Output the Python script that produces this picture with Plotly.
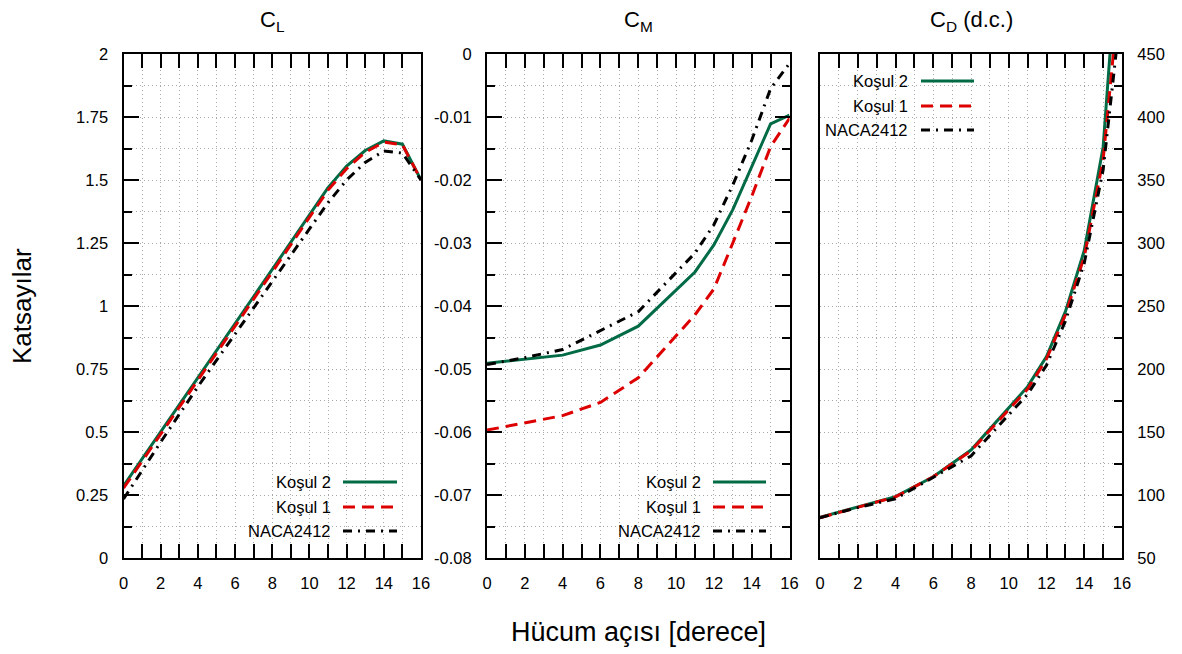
import plotly.graph_objects as go

W, H = 1182, 654

# ---- data ----
alpha = [0, 2, 4, 6, 8, 11, 12, 13, 14, 15, 16]

cl_kosul2 = [0.286, 0.500, 0.715, 0.930, 1.145, 1.470, 1.555, 1.617, 1.655, 1.642, 1.500]
cl_kosul1 = [0.277, 0.490, 0.705, 0.920, 1.135, 1.460, 1.545, 1.610, 1.650, 1.640, 1.500]
cl_naca = [0.234, 0.460, 0.680, 0.890, 1.100, 1.410, 1.500, 1.570, 1.615, 1.607, 1.500]

cm_kosul2 = [-0.0491, -0.0485, -0.0478, -0.0462, -0.0432, -0.0346, -0.0303, -0.0247, -0.0179, -0.0111, -0.0097]
cm_kosul1 = [-0.0597, -0.0586, -0.0574, -0.0553, -0.0514, -0.0414, -0.0373, -0.0300, -0.0226, -0.0147, -0.0102]
cm_naca = [-0.0493, -0.0482, -0.0469, -0.0439, -0.0409, -0.0316, -0.0271, -0.0208, -0.0137, -0.0055, -0.0015]

cd_kosul2 = [82.3, 90.7, 98.7, 114.5, 135.7, 186.0, 209.8, 245.5, 294.0, 376.0, 580.0]
cd_kosul1 = [82.0, 90.5, 98.5, 114.5, 135.0, 184.0, 208.0, 243.0, 289.0, 366.0, 521.0]
cd_naca = [82.0, 90.0, 97.0, 114.0, 131.0, 180.0, 203.0, 238.0, 284.0, 358.0, 493.0]

series_names = ["Koşul 2", "Koşul 1", "NACA2412"]
panel_titles = ["C<sub>L</sub>", "C<sub>M</sub>", "C<sub>D</sub> (d.c.)"]

x_tickvals = [0, 2, 4, 6, 8, 10, 12, 14, 16]
x_ticktext = ["0", "2", "4", "6", "8", "10", "12", "14", "16"]
cl_tickvals = [0, 0.25, 0.5, 0.75, 1, 1.25, 1.5, 1.75, 2]
cl_ticktext = ["0", "0.25", "0.5", "0.75", "1", "1.25", "1.5", "1.75", "2"]
cm_tickvals = [-0.08, -0.07, -0.06, -0.05, -0.04, -0.03, -0.02, -0.01, 0]
cm_ticktext = ["-0.08", "-0.07", "-0.06", "-0.05", "-0.04", "-0.03", "-0.02", "-0.01", "0"]
cd_tickvals = [50, 100, 150, 200, 250, 300, 350, 400, 450]
cd_ticktext = ["50", "100", "150", "200", "250", "300", "350", "400", "450"]

# ---- styles ----
GREEN = "#006b45"
RED = "#dd0000"
BLACK = "#000000"
styles = [
    dict(color=GREEN, width=3, dash="solid"),
    dict(color=RED, width=3, dash="12px,7px"),
    dict(color=BLACK, width=3, dash="9px,6px,2px,6px"),
]
FONT = "Liberation Sans, Arial, sans-serif"
GRID = "#a8a8a8"
GRID_DASH = "1px,3px"
TICK_SIZE = 16.5

# panel pixel boxes
px_boxes = [(123.5, 421.0), (487.0, 789.5), (820.0, 1122.0)]
top_px, bot_px = 54.0, 558.0
ydom = [1 - bot_px / H, 1 - top_px / H]

fig = go.Figure()

panels = [
    (cl_kosul2, cl_kosul1, cl_naca),
    (cm_kosul2, cm_kosul1, cm_naca),
    (cd_kosul2, cd_kosul1, cd_naca),
]
for i, data in enumerate(panels):
    xa = "x" if i == 0 else f"x{i+1}"
    ya = "y" if i == 0 else f"y{i+1}"
    for j, ys in enumerate(data):
        fig.add_trace(go.Scatter(x=alpha, y=ys, mode="lines", line=styles[j],
                                 name=series_names[j], xaxis=xa, yaxis=ya,
                                 showlegend=False))

def xaxis_cfg(i):
    l, r = px_boxes[i]
    return dict(domain=[l / W, r / W], range=[0, 16], anchor="y" if i == 0 else f"y{i+1}",
                tickvals=x_tickvals, ticktext=x_ticktext, ticks="inside", ticklen=14,
                tickwidth=1.5, tickcolor="black", showline=True, linecolor="black",
                linewidth=2, mirror="ticks", showgrid=True, gridcolor=GRID, griddash=GRID_DASH,
                gridwidth=1, zeroline=False, ticklabelstandoff=9,
                tickfont=dict(family=FONT, size=TICK_SIZE, color="black"),
                minor=dict(dtick=1, tick0=0, ticks="inside", ticklen=14, tickwidth=1.5,
                           tickcolor="black", showgrid=True, gridcolor=GRID, griddash=GRID_DASH,
                           gridwidth=1),
                automargin=False, fixedrange=True)

def yaxis_cfg(i, rng, tv, tt, minor_dtick, side, mirror):
    return dict(domain=ydom, range=rng, anchor="x" if i == 0 else f"x{i+1}",
                tickvals=tv, ticktext=tt, ticks="inside", ticklen=15, tickwidth=1.5,
                tickcolor="black", showline=True, linecolor="black", linewidth=2,
                mirror=mirror, side=side, showgrid=True, gridcolor=GRID, griddash=GRID_DASH,
                gridwidth=1, zeroline=False, ticklabelstandoff=10,
                tickfont=dict(family=FONT, size=TICK_SIZE, color="black"),
                minor=dict(dtick=minor_dtick, tick0=rng[0], ticks="inside", ticklen=8,
                           tickwidth=1.5, tickcolor="black", showgrid=True, gridcolor=GRID,
                           griddash=GRID_DASH, gridwidth=1),
                automargin=False, fixedrange=True)

fig.update_layout(
    xaxis=xaxis_cfg(0), xaxis2=xaxis_cfg(1), xaxis3=xaxis_cfg(2),
    yaxis=yaxis_cfg(0, [0, 2], cl_tickvals, cl_ticktext, 0.125, "left", True),
    yaxis2=yaxis_cfg(1, [-0.08, 0], cm_tickvals, cm_ticktext, 0.005, "left", "ticks"),
    yaxis3=yaxis_cfg(2, [50, 450], cd_tickvals, cd_ticktext, 25, "right", True),
    width=W, height=H, margin=dict(l=0, r=0, t=0, b=0),
    paper_bgcolor="white", plot_bgcolor="white", showlegend=False,
    font=dict(family=FONT, color="black"),
)

annotations = []
shapes = []
# panel titles
for i, t in enumerate(panel_titles):
    l, r = px_boxes[i]
    annotations.append(dict(text=t, x=(l + r) / 2 / W, y=1 - 21 / H, xref="paper", yref="paper",
                            showarrow=False, xanchor="center", yanchor="middle",
                            font=dict(family=FONT, size=22, color="black")))
# axis titles
annotations.append(dict(text="Katsayılar", x=22 / W, y=1 - 306 / H, xref="paper", yref="paper",
                        showarrow=False, textangle=-90, xanchor="center", yanchor="middle",
                        font=dict(family=FONT, size=26, color="black")))
annotations.append(dict(text="Hücum açısı [derece]", x=638 / W, y=1 - 632 / H, xref="paper",
                        yref="paper", showarrow=False, xanchor="center", yanchor="middle",
                        font=dict(family=FONT, size=27, color="black")))

# legends (text right of sample, gnuplot style)
legend_boxes = [
    (333, 343, 397, [482, 507, 531]),
    (703, 713, 766, [482, 507, 531]),
    (910, 921, 974, [81, 106, 130]),
]
for (tx, sx0, sx1, ys) in legend_boxes:
    for j, yy in enumerate(ys):
        annotations.append(dict(text=series_names[j], x=tx / W, y=1 - yy / H, xref="paper",
                                yref="paper", showarrow=False, xanchor="right",
                                yanchor="middle",
                                font=dict(family=FONT, size=16.5, color="black")))
        shapes.append(dict(type="line", xref="paper", yref="paper", x0=sx0 / W, x1=sx1 / W,
                           y0=1 - yy / H, y1=1 - yy / H, line=styles[j]))

fig.update_layout(annotations=annotations, shapes=shapes)
fig.write_html("out.html")
